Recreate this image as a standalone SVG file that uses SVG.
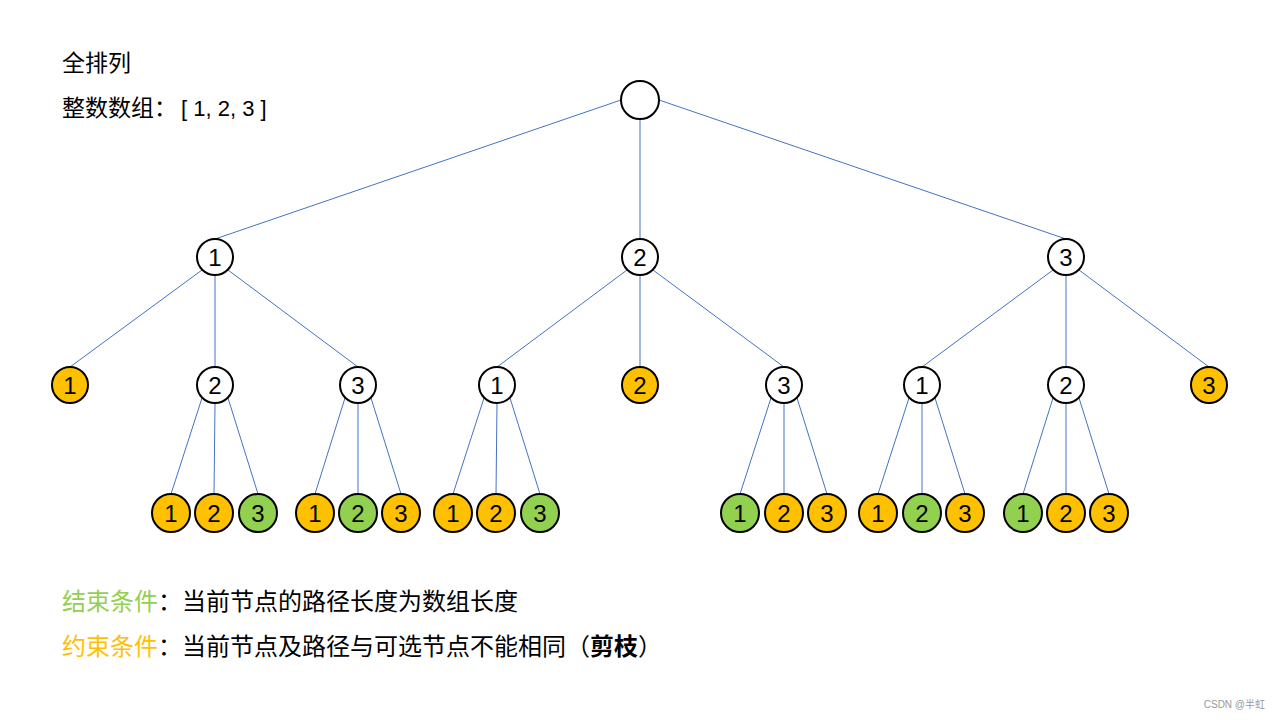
<svg xmlns="http://www.w3.org/2000/svg" width="1280" height="720" viewBox="0 0 1280 720">
<style>
.n{stroke:#000;stroke-width:2}
.w{fill:#fff}.o{fill:#FFC000}.g{fill:#92D050}
.t{font-family:"Liberation Sans","Noto Sans",sans-serif;font-size:24px;text-anchor:middle;fill:#000}
.e line{stroke:#4472C4;stroke-width:1}
.cap{font-family:"Noto Sans CJK SC","Noto Sans",sans-serif;font-size:23px;fill:#000}
.cap2{font-family:"Noto Sans CJK SC","Noto Sans",sans-serif;font-size:24px;fill:#000}
</style>
<rect width="1280" height="720" fill="#fff"/>
<text class="cap" x="62" y="71">全排列</text>
<text class="cap" x="62" y="116">整数数组：<tspan x="181" font-family="Liberation Sans, sans-serif" font-size="22">[ 1, 2, 3 ]</tspan></text>
<g id="connectors" class="e">
<line x1="621" y1="100" x2="215" y2="239"/>
<line x1="640" y1="119" x2="640" y2="239"/>
<line x1="659" y1="100" x2="1066" y2="239"/>
<line x1="202" y1="270" x2="70" y2="367"/>
<line x1="215" y1="275" x2="215" y2="367"/>
<line x1="228" y1="270" x2="358" y2="367"/>
<line x1="627" y1="270" x2="497" y2="367"/>
<line x1="640" y1="275" x2="640" y2="367"/>
<line x1="653" y1="270" x2="784" y2="367"/>
<line x1="1053" y1="270" x2="922" y2="367"/>
<line x1="1066" y1="275" x2="1066" y2="367"/>
<line x1="1079" y1="270" x2="1209" y2="367"/>
<line x1="202" y1="398" x2="171" y2="494"/><line x1="215" y1="403" x2="214" y2="494"/><line x1="228" y1="398" x2="258" y2="494"/>
<line x1="345" y1="398" x2="315" y2="494"/><line x1="358" y1="403" x2="358" y2="494"/><line x1="371" y1="398" x2="401" y2="494"/>
<line x1="484" y1="398" x2="453" y2="494"/><line x1="497" y1="403" x2="496" y2="494"/><line x1="510" y1="398" x2="540" y2="494"/>
<line x1="771" y1="398" x2="740" y2="494"/><line x1="784" y1="403" x2="784" y2="494"/><line x1="797" y1="398" x2="827" y2="494"/>
<line x1="909" y1="398" x2="878" y2="494"/><line x1="922" y1="403" x2="922" y2="494"/><line x1="935" y1="398" x2="965" y2="494"/>
<line x1="1053" y1="398" x2="1023" y2="494"/><line x1="1066" y1="403" x2="1066" y2="494"/><line x1="1079" y1="398" x2="1109" y2="494"/>
</g>
<g id="root"><circle class="n w" cx="640" cy="100" r="19"/></g>
<g id="n1"><circle class="n w" cx="215" cy="257" r="18"/><text class="t" x="215" y="265.5">1</text></g>
<g id="n2"><circle class="n w" cx="640" cy="257" r="18"/><text class="t" x="640" y="265.5">2</text></g>
<g id="n3"><circle class="n w" cx="1066" cy="257" r="18"/><text class="t" x="1066" y="265.5">3</text></g>
<g id="n11"><circle class="n o" cx="70" cy="385" r="18"/><text class="t" x="70" y="393.5">1</text></g>
<g id="n12"><circle class="n w" cx="215" cy="385" r="18"/><text class="t" x="215" y="393.5">2</text></g>
<g id="n13"><circle class="n w" cx="358" cy="385" r="18"/><text class="t" x="358" y="393.5">3</text></g>
<g id="n21"><circle class="n w" cx="497" cy="385" r="18"/><text class="t" x="497" y="393.5">1</text></g>
<g id="n22"><circle class="n o" cx="640" cy="385" r="18"/><text class="t" x="640" y="393.5">2</text></g>
<g id="n23"><circle class="n w" cx="784" cy="385" r="18"/><text class="t" x="784" y="393.5">3</text></g>
<g id="n31"><circle class="n w" cx="922" cy="385" r="18"/><text class="t" x="922" y="393.5">1</text></g>
<g id="n32"><circle class="n w" cx="1066" cy="385" r="18"/><text class="t" x="1066" y="393.5">2</text></g>
<g id="n33"><circle class="n o" cx="1209" cy="385" r="18"/><text class="t" x="1209" y="393.5">3</text></g>
<g id="l121"><circle class="n o" cx="171" cy="513" r="19"/><text class="t" x="171" y="521.5">1</text></g>
<g id="l122"><circle class="n o" cx="214" cy="513" r="19"/><text class="t" x="214" y="521.5">2</text></g>
<g id="l123"><circle class="n g" cx="258" cy="513" r="19"/><text class="t" x="258" y="521.5">3</text></g>
<g id="l131"><circle class="n o" cx="315" cy="513" r="19"/><text class="t" x="315" y="521.5">1</text></g>
<g id="l132"><circle class="n g" cx="358" cy="513" r="19"/><text class="t" x="358" y="521.5">2</text></g>
<g id="l133"><circle class="n o" cx="401" cy="513" r="19"/><text class="t" x="401" y="521.5">3</text></g>
<g id="l211"><circle class="n o" cx="453" cy="513" r="19"/><text class="t" x="453" y="521.5">1</text></g>
<g id="l212"><circle class="n o" cx="496" cy="513" r="19"/><text class="t" x="496" y="521.5">2</text></g>
<g id="l213"><circle class="n g" cx="540" cy="513" r="19"/><text class="t" x="540" y="521.5">3</text></g>
<g id="l231"><circle class="n g" cx="740" cy="513" r="19"/><text class="t" x="740" y="521.5">1</text></g>
<g id="l232"><circle class="n o" cx="784" cy="513" r="19"/><text class="t" x="784" y="521.5">2</text></g>
<g id="l233"><circle class="n o" cx="827" cy="513" r="19"/><text class="t" x="827" y="521.5">3</text></g>
<g id="l311"><circle class="n o" cx="878" cy="513" r="19"/><text class="t" x="878" y="521.5">1</text></g>
<g id="l312"><circle class="n g" cx="922" cy="513" r="19"/><text class="t" x="922" y="521.5">2</text></g>
<g id="l313"><circle class="n o" cx="965" cy="513" r="19"/><text class="t" x="965" y="521.5">3</text></g>
<g id="l321"><circle class="n g" cx="1023" cy="513" r="19"/><text class="t" x="1023" y="521.5">1</text></g>
<g id="l322"><circle class="n o" cx="1066" cy="513" r="19"/><text class="t" x="1066" y="521.5">2</text></g>
<g id="l323"><circle class="n o" cx="1109" cy="513" r="19"/><text class="t" x="1109" y="521.5">3</text></g>
<text class="cap2" x="62" y="610"><tspan fill="#92D050">结束条件</tspan>：<tspan x="182">当前节点的路径长度为数组长度</tspan></text>
<text class="cap2" x="62" y="655"><tspan fill="#FFC000">约束条件</tspan>：<tspan x="182">当前节点及路径与可选节点不能相同（<tspan font-weight="bold">剪枝</tspan>）</tspan></text>
<text x="1265" y="708" text-anchor="end" font-family="Liberation Sans, Noto Sans CJK SC, sans-serif" font-size="10" fill="#999">CSDN @半虹</text>
</svg>
